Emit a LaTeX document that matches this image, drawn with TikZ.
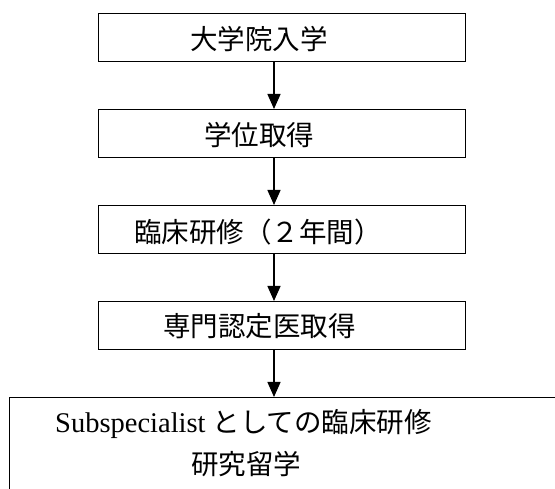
\documentclass[tikz,border=0pt]{standalone}
\usepackage{fontspec}
\setmainfont{Liberation Serif}
\newfontfamily\jp{Noto Sans CJK JP}
\usetikzlibrary{arrows.meta}
\begin{document}
\begin{tikzpicture}[x=1pt,y=-1pt,
  box/.style={draw,line width=1pt,minimum width=367pt,minimum height=48pt,inner sep=0pt,anchor=north west},
  lbl/.style={anchor=west,inner sep=0pt,font=\jp\fontsize{27.5}{33}\selectfont},
  arr/.style={line width=1.4pt,-{Triangle[width=13pt,length=15pt]}}]
\clip (0,0) rectangle (555,489);
\fill[white] (0,0) rectangle (555,489);
\node[box] (b1) at (98,13) {};
\node[box] (b2) at (98,109) {};
\node[box] (b3) at (98,205) {};
\node[box] (b4) at (98,301) {};
\node[box,minimum width=600pt,minimum height=150pt] (b5) at (9,397) {};
\coordinate (ax) at (274,0);
\draw[arr] (b1.south -| ax) -- (b2.north -| ax);
\draw[arr] (b2.south -| ax) -- (b3.north -| ax);
\draw[arr] (b3.south -| ax) -- (b4.north -| ax);
\draw[arr] (b4.south -| ax) -- (b5.north -| ax);
\node[lbl] (t1) at (190,39) {大学院入学};
\node[lbl] (t2) at (204,135) {学位取得};
\node[lbl] (t3) at (134,232) {臨床研修（２年間）};
\node[lbl] (t4) at (163,326) {専門認定医取得};
\node[lbl,font=\fontsize{28.5}{33}\selectfont] (t5) at (55,424) {Subspecialist {\jp\fontsize{27.5}{33}\selectfont としての臨床研修}};
\node[lbl] (t6) at (191,464) {研究留学};
\end{tikzpicture}
\end{document}
